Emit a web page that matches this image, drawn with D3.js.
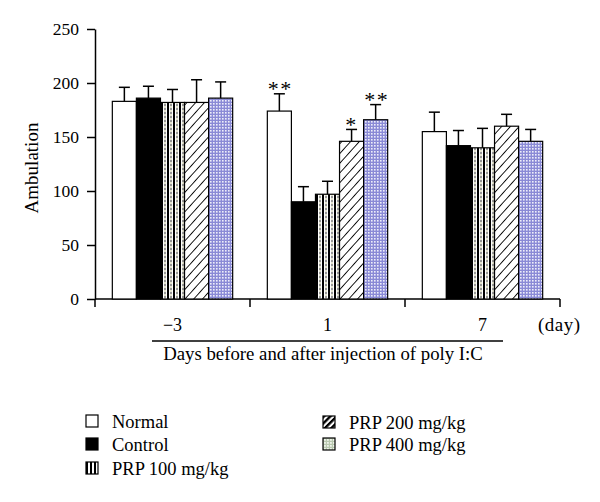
<!DOCTYPE html>
<html>
<head>
<meta charset="utf-8">
<script src="https://cdn.jsdelivr.net/npm/d3@7"></script>
<style>
  html, body { margin: 0; padding: 0; background: #fff; }
  svg { display: block; }
  text { font-family: "Liberation Serif", "Times New Roman", serif; fill: #000; }
</style>
</head>
<body>
<svg id="chart" width="600" height="502"></svg>
<script>
// ---- data ----
const days = ["\u22123", "1", "7"];
const series = ["Normal", "Control", "PRP 100 mg/kg", "PRP 200 mg/kg", "PRP 400 mg/kg"];
const normalMean  = [183, 174, 155];
const controlMean = [186, 90, 142];
const prp100Mean  = [182, 97, 140];
const prp200Mean  = [182, 146, 160];
const prp400Mean  = [186, 166, 146];
const normalSD  = [13, 16, 18];
const controlSD = [11, 14, 14];
const prp100SD  = [12, 12, 18];
const prp200SD  = [21, 11, 11];
const prp400SD  = [15, 14, 11];
const significance = [
  {day: "1", series: "Normal", mark: "**"},
  {day: "1", series: "PRP 200 mg/kg", mark: "*"},
  {day: "1", series: "PRP 400 mg/kg", mark: "**"}
];
const yTicks = [0, 50, 100, 150, 200, 250];
const yLabel = "Ambulation";
const xTitle = "Days before and after injection of poly I:C";
const unitLabel = "(day)";

const means = [normalMean, controlMean, prp100Mean, prp200Mean, prp400Mean];
const sds = [normalSD, controlSD, prp100SD, prp200SD, prp400SD];
const rows = [];
days.forEach((d, di) => series.forEach((s, si) => rows.push({day: d, series: s, mean: means[si][di], sd: sds[si][di]})));

const svg = d3.select("#chart");
const defs = svg.append("defs");

// patterns
const p100 = defs.append("pattern").attr("id", "p100").attr("patternUnits", "userSpaceOnUse")
  .attr("width", 6).attr("height", 4);
p100.append("rect").attr("width", 6).attr("height", 4).attr("fill", "#fff");
p100.append("rect").attr("x", 0).attr("width", 2).attr("height", 4).attr("fill", "#000");
p100.append("rect").attr("x", 3.5).attr("y", 0).attr("width", 1).attr("height", 2).attr("fill", "#333");
p100.append("rect").attr("x", 3.5).attr("y", 2).attr("width", 1).attr("height", 2).attr("fill", "#c8c8a0");

const p200 = defs.append("pattern").attr("id", "p200").attr("patternUnits", "userSpaceOnUse")
  .attr("width", 6.5).attr("height", 6.5).attr("patternTransform", "rotate(42)");
p200.append("rect").attr("width", 6.5).attr("height", 6.5).attr("fill", "#fff");
p200.append("line").attr("x1", 0).attr("y1", 0).attr("x2", 0).attr("y2", 6.5)
  .attr("stroke", "#000").attr("stroke-width", 1.8);

const p400 = defs.append("pattern").attr("id", "p400").attr("patternUnits", "userSpaceOnUse")
  .attr("width", 3).attr("height", 3);
p400.append("rect").attr("width", 3).attr("height", 3).attr("fill", "#8a8ad6");
p400.append("rect").attr("x", 1).attr("y", 1).attr("width", 1.6).attr("height", 1.6).attr("fill", "#eeeefa");

const lg400 = defs.append("pattern").attr("id", "lg400").attr("patternUnits", "userSpaceOnUse")
  .attr("width", 3).attr("height", 3);
lg400.append("rect").attr("width", 3).attr("height", 3).attr("fill", "#b9c9b0");
lg400.append("rect").attr("x", 1).attr("y", 1).attr("width", 1.8).attr("height", 1.8).attr("fill", "#eef3ea");

const lg200 = defs.append("pattern").attr("id", "lg200").attr("patternUnits", "userSpaceOnUse")
  .attr("width", 4.5).attr("height", 4.5).attr("patternTransform", "rotate(45)");
lg200.append("rect").attr("width", 4.5).attr("height", 4.5).attr("fill", "#fff");
lg200.append("rect").attr("x", 0).attr("width", 2.4).attr("height", 4.5).attr("fill", "#000");

const lg100 = defs.append("pattern").attr("id", "lg100").attr("patternUnits", "userSpaceOnUse")
  .attr("width", 4).attr("height", 12);
lg100.append("rect").attr("width", 4).attr("height", 12).attr("fill", "#fff");
lg100.append("rect").attr("x", 0).attr("width", 2).attr("height", 12).attr("fill", "#000");

const barFill = d3.scaleOrdinal().domain(series).range(["#fff", "#000", "url(#p100)", "url(#p200)", "url(#p400)"]);
const legendFill = d3.scaleOrdinal().domain(series).range(["#fff", "#000", "url(#lg100)", "url(#lg200)", "url(#lg400)"]);

// scales
const x0 = d3.scaleBand().domain(days).range([95, 560]).paddingInner(0).paddingOuter(0);
const x1 = d3.scaleBand().domain(series).range([0, x0.bandwidth()]).paddingInner(0).paddingOuter(0.72);
const y = d3.scaleLinear().domain([0, 250]).range([299, 29]);

// y axis
const yAxis = svg.append("g").attr("transform", "translate(95,0)")
  .call(d3.axisLeft(y).tickValues(yTicks).tickSize(8).tickPadding(8).tickSizeOuter(0));
yAxis.select(".domain").attr("stroke", "#000").attr("stroke-width", 1.5);
yAxis.selectAll(".tick line").attr("stroke", "#000").attr("stroke-width", 1.5);
yAxis.selectAll(".tick text").attr("font-family", "Liberation Serif, serif").attr("font-size", 17.5).attr("fill", "#000");

// x axis (custom ticks at band boundaries)
const boundaries = days.map(d => x0(d)).concat([x0.range()[1]]);
svg.append("line").attr("x1", x0.range()[0]).attr("x2", x0.range()[1]).attr("y1", y(0)).attr("y2", y(0))
  .attr("stroke", "#000").attr("stroke-width", 1.5);
svg.selectAll(".xtick").data(boundaries).join("line").attr("class", "xtick")
  .attr("x1", d => d).attr("x2", d => d).attr("y1", y(0)).attr("y2", y(0) + 8)
  .attr("stroke", "#000").attr("stroke-width", 1.5);
svg.selectAll(".xlab").data(days).join("text").attr("class", "xlab")
  .attr("x", d => x0(d) + x0.bandwidth() / 2).attr("y", 331)
  .attr("text-anchor", "middle").attr("font-size", 18).text(d => d);
svg.append("text").attr("x", 538).attr("y", 331).attr("font-size", 19).attr("letter-spacing", 0.5).text(unitLabel);

// bars
const groups = svg.selectAll(".grp").data(days).join("g").attr("class", "grp")
  .attr("transform", d => `translate(${x0(d)},0)`);
groups.selectAll("rect").data(d => rows.filter(r => r.day === d)).join("rect")
  .attr("x", d => x1(d.series)).attr("width", x1.bandwidth())
  .attr("y", d => y(d.mean)).attr("height", d => y(0) - y(d.mean))
  .attr("fill", d => barFill(d.series)).attr("stroke", "#000").attr("stroke-width", 1.2);

// error bars (upper only)
groups.selectAll(".err").data(d => rows.filter(r => r.day === d)).join("g").attr("class", "err")
  .each(function(d) {
    const g = d3.select(this);
    const cx = x1(d.series) + x1.bandwidth() / 2;
    g.append("line").attr("x1", cx).attr("x2", cx).attr("y1", y(d.mean)).attr("y2", y(d.mean + d.sd))
      .attr("stroke", "#000").attr("stroke-width", 1.5);
    g.append("line").attr("x1", cx - 5.5).attr("x2", cx + 5.5).attr("y1", y(d.mean + d.sd)).attr("y2", y(d.mean + d.sd))
      .attr("stroke", "#000").attr("stroke-width", 1.5);
  });

// significance marks
svg.selectAll(".sig").data(significance).join("text").attr("class", "sig")
  .attr("x", d => x0(d.day) + x1(d.series) + x1.bandwidth() / 2 + (d.mark.length > 1 ? 1 : 0))
  .attr("y", d => { const r = rows.find(q => q.day === d.day && q.series === d.series); return y(r.mean + r.sd) + 2.5; })
  .attr("text-anchor", "middle").attr("font-size", 22)
  .attr("letter-spacing", 1.5).text(d => d.mark);

// y label
svg.append("text").attr("transform", "translate(38,168) rotate(-90)")
  .attr("text-anchor", "middle").attr("font-size", 19).text(yLabel);

// x title with underline
svg.append("line").attr("x1", 152).attr("x2", 503).attr("y1", 341).attr("y2", 341)
  .attr("stroke", "#000").attr("stroke-width", 1.5);
svg.append("text").attr("x", 323).attr("y", 360).attr("text-anchor", "middle").attr("font-size", 18.8).text(xTitle);

// legend
const legendPos = [
  {x: 86, y: 421}, {x: 86, y: 444}, {x: 86, y: 468},
  {x: 323, y: 422}, {x: 323, y: 444}
];
const leg = svg.selectAll(".leg").data(series).join("g").attr("class", "leg")
  .attr("transform", (d, i) => `translate(${legendPos[i].x},${legendPos[i].y})`);
leg.append("rect").attr("x", 0).attr("y", -6).attr("width", 12).attr("height", 12)
  .attr("fill", d => legendFill(d)).attr("stroke", "#000").attr("stroke-width", 1.2);
leg.append("text").attr("x", 26).attr("y", 6.5).attr("font-size", 18.5).text(d => d);
</script>
</body>
</html>
